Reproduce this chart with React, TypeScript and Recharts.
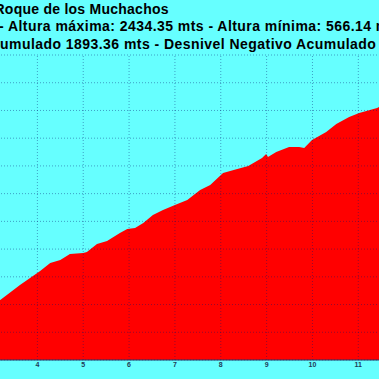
import { AreaChart, Area, XAxis, YAxis, ReferenceLine } from 'recharts';

// distance (km) and altitude (m)
const distances = [
  0, 0.5, 1.0, 1.5, 2.0, 2.5, 3.0, 3.19, 3.62, 4.06, 4.28, 4.5, 4.71, 5.0, 5.08, 5.3, 5.52, 5.8,
  5.96, 6.13, 6.31, 6.52, 6.74, 7.0, 7.27, 7.55, 7.77, 8.05, 8.36, 8.6, 8.9, 8.99, 9.03, 9.21,
  9.49, 9.71, 9.82, 9.99, 10.3, 10.52, 10.8, 11.02, 11.41, 11.8, 12.2, 12.6, 13.0,
];
const altitudes = [
  566, 612, 655, 700, 738, 775, 810, 833, 941, 1042, 1100, 1121, 1165, 1172, 1179, 1237, 1258, 1316,
  1345, 1352, 1388, 1446, 1482, 1518, 1554, 1626, 1662, 1749, 1778, 1799, 1857, 1886, 1864, 1900,
  1936, 1936, 1929, 1987, 2045, 2102, 2153, 2182, 2218, 2280, 2340, 2400, 2434,
];
const kmGrid = [0, 1, 2, 3, 4, 5, 6, 7, 8, 9, 10, 11, 12, 13];
const kmLabels = [4, 5, 6, 7, 8, 9, 10, 11];
const altTicks = [400, 600, 800, 1000, 1200, 1400, 1600, 1800, 2000, 2200, 2400, 2600];

const titleLines = [
  'Roque de los Muchachos',
  '- Altura máxima: 2434.35 mts - Altura mínima: 566.14 mts',
  'umulado 1893.36 mts - Desnivel Negativo Acumulado',
];

const data = distances.map((km, i) => ({ km, alt: altitudes[i] }));

const gridColor = 'rgba(0,20,110,0.4)';

const titleStyle = {
  position: 'absolute' as const,
  whiteSpace: 'nowrap' as const,
  fontFamily: 'Liberation Sans, Arial, sans-serif',
  fontWeight: 'bold' as const,
  fontSize: 14,
  lineHeight: '14px',
  letterSpacing: 0.45,
  color: '#000',
};

export default function App() {
  return (
    <div
      style={{
        position: 'fixed',
        top: 0,
        left: 0,
        width: 379,
        height: 379,
        overflow: 'hidden',
        background: '#66FFFF',
      }}
    >
      <div style={{ position: 'absolute', left: -220, top: 0 }}>
        <AreaChart width={690} height={380} data={data} margin={{ top: 55, right: 20, left: 74, bottom: 0 }}>
          <XAxis
            dataKey="km"
            type="number"
            domain={[0, 13]}
            ticks={kmLabels}
            height={20}
            tickLine={false}
            tickSize={0}
            tickMargin={2}
            axisLine={{ stroke: '#2b3a66' }}
            tick={{ fontSize: 7, fontWeight: 'bold', fill: '#1f3b57', fontFamily: 'Liberation Sans, Arial, sans-serif' }}
          />
          <YAxis hide type="number" domain={[400, 2600]} ticks={altTicks} allowDataOverflow />
          <Area
            type="linear"
            dataKey="alt"
            stroke="none"
            fill="#FF0000"
            fillOpacity={1}
            isAnimationActive={false}
          />
          {kmGrid.map((k) => (
            <ReferenceLine key={'x' + k} x={k} stroke={gridColor} strokeDasharray="1 2" />
          ))}
          {altTicks.map((a) => (
            <ReferenceLine key={'y' + a} y={a} stroke={gridColor} strokeDasharray="1 2" />
          ))}
        </AreaChart>
      </div>
      <div style={{ ...titleStyle, left: -5.5, top: 1.5, letterSpacing: 0.25 }}>{titleLines[0]}</div>
      <div style={{ ...titleStyle, left: -1, top: 18.9 }}>{titleLines[1]}</div>
      <div style={{ ...titleStyle, left: 0, top: 36.5 }}>{titleLines[2]}</div>
    </div>
  );
}
